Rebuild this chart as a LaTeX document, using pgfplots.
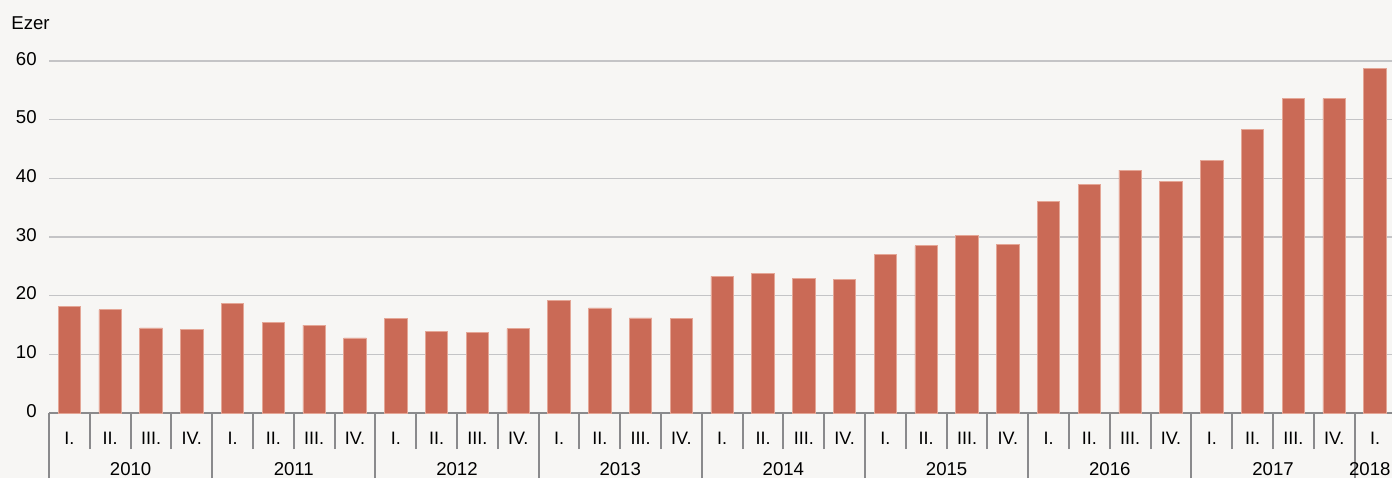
\documentclass[border=0pt]{standalone}
\usepackage{pgfplots}
\pgfplotsset{compat=1.18}
\usepackage{fontspec}
\setmainfont{Liberation Sans}
\definecolor{bg}{RGB}{247,246,244}
\definecolor{barc}{RGB}{202,106,86}
\definecolor{baredge}{RGB}{228,166,150}
\definecolor{gridc}{RGB}{196,196,198}
\definecolor{axc}{RGB}{138,138,140}
\pgfplotstableread{
x y
0 18.1
1 17.6
2 14.5
3 14.2
4 18.7
5 15.45
6 15.0
7 12.8
8 16.1
9 13.85
10 13.7
11 14.4
12 19.2
13 17.9
14 16.2
15 16.1
16 23.3
17 23.8
18 22.9
19 22.7
20 27.1
21 28.5
22 30.2
23 28.7
24 36.0
25 38.9
26 41.4
27 39.5
28 43.0
29 48.4
30 53.6
31 53.6
32 58.8
}\datatable
\begin{document}
\begin{tikzpicture}
\fill[bg] (0,0) rectangle (696pt,239pt);
\useasboundingbox (0,0) rectangle (696pt,239pt);
\node[anchor=base west,inner sep=0pt,font=\fontsize{9.3}{11}\selectfont] at (5.5pt,224.25pt) {Ezer};
\begin{axis}[
  scale only axis,
  width=673.2pt, height=176pt,
  at={(24.5pt,32.5pt)}, anchor=south west,
  xmin=-0.5, xmax=32.5, ymin=0, ymax=60,
  enlargelimits=false,
  clip=false,
  axis lines*=left,
  x axis line style={draw=axc, line width=1pt},
  y axis line style={draw=none},
  ytick={0,10,...,60},
  /pgf/number format/assume math mode=true,
  ymajorgrids,
  major grid style={draw=gridc, line width=0.75pt},
  ytick style={draw=none},
  yticklabel style={anchor=base east, inner sep=0pt, xshift=-6pt, yshift=-2pt, font=\fontsize{9.3}{11}\selectfont},
  xtick={0,...,32},
  xticklabels={I.,II.,III.,IV.,I.,II.,III.,IV.,I.,II.,III.,IV.,I.,II.,III.,IV.,I.,II.,III.,IV.,I.,II.,III.,IV.,I.,II.,III.,IV.,I.,II.,III.,IV.,I.},
  xticklabel style={anchor=base, inner sep=0pt, yshift=-15.5pt, font=\fontsize{9}{10}\selectfont},
  tick align=outside,
  major tick length=0pt,
  minor tick length=18pt,
  minor xtick={-0.5,0.5,...,31.5},
  every tick/.style={draw=axc, line width=1pt},
  extra x ticks={-0.5,3.5,7.5,11.5,15.5,19.5,23.5,27.5,31.5},
  extra x tick labels={},
  extra x tick style={major tick length=32.5pt, tick style={draw=axc, line width=1pt}, grid=none},
  ybar, bar width=11.25pt,
]
\addplot[fill=barc, draw=baredge, line width=0.4pt] table[x=x,y=y] {\datatable};
\foreach \xx/\yr in {1.5/2010,5.5/2011,9.5/2012,13.5/2013,17.5/2014,21.5/2015,25.5/2016,29.5/2017}{
  \edef\temp{\noexpand\node[anchor=base, inner sep=0pt, font=\noexpand\fontsize{9.3}{11}\noexpand\selectfont] at (axis cs:\xx,0) [yshift=-31pt] {\yr};}
  \temp
}
\node[anchor=base, inner sep=0pt, font=\fontsize{9.3}{11}\selectfont] at (axis cs:32,0) [yshift=-31pt, xshift=-2.6pt] {2018};
\end{axis}
\end{tikzpicture}
\end{document}
